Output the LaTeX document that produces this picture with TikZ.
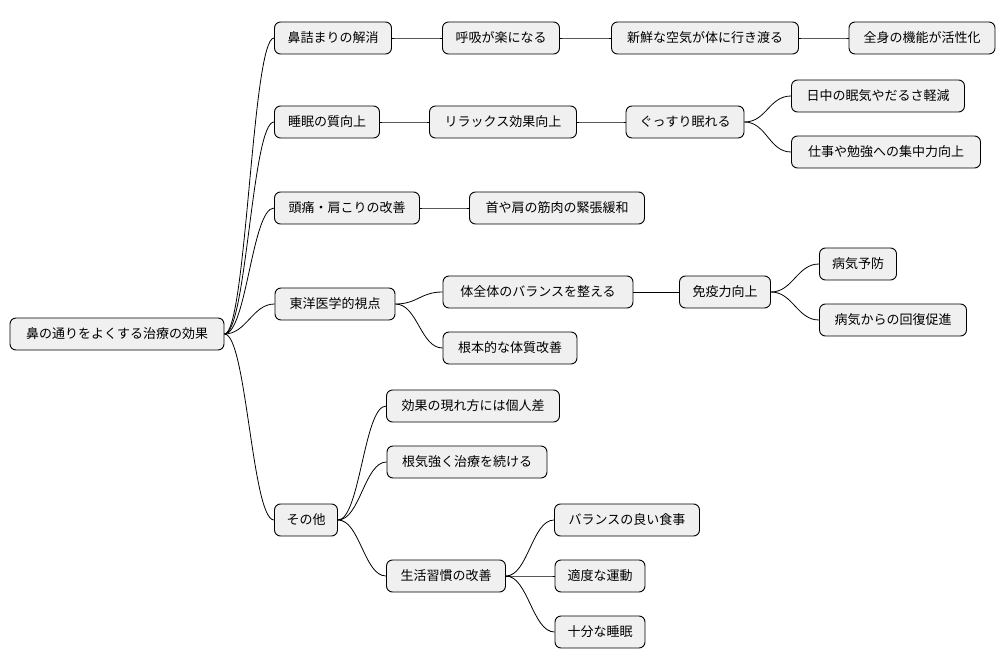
\documentclass[tikz,border=0pt]{standalone}
\usepackage{fontspec}
\newfontfamily\cjk{Noto Sans CJK JP}
\begin{document}
\begin{tikzpicture}[x=1pt,y=-1pt,
  box/.style={draw=black,line width=0.9pt,fill=black!6,rounded corners=6pt,minimum height=32pt,inner xsep=0pt,font=\cjk\fontsize{13}{15}\selectfont,anchor=center},
  con/.style={draw=black,line width=0.8pt}]
\useasboundingbox (0,0) rectangle (1006,668);
\newcommand\nd[5]{\node[box,minimum width=#4pt] (#1) at (#2,#3) {#5};}
\nd{r}{117}{334}{214}{鼻の通りをよくする治療の効果}
\nd{a}{333}{38}{117}{鼻詰まりの解消}
\nd{b}{327}{122}{105}{睡眠の質向上}
\nd{c}{347}{208}{145}{頭痛・肩こりの改善}
\nd{d}{335}{304}{120}{東洋医学的視点}
\nd{e}{306}{520}{63}{その他}
\nd{a1}{501}{38}{117}{呼吸が楽になる}
\nd{a2}{705}{38}{187}{新鮮な空気が体に行き渡る}
\nd{a3}{922}{38}{146}{全身の機能が活性化}
\nd{b1}{503}{122}{147}{リラックス効果向上}
\nd{b2}{685}{122}{118}{ぐっすり眠れる}
\nd{b3}{878}{96}{173}{日中の眠気やだるさ軽減}
\nd{b4}{886}{152}{189}{仕事や勉強への集中力向上}
\nd{c1}{557}{208}{175}{首や肩の筋肉の緊張緩和}
\nd{d1}{538}{292}{190}{体全体のバランスを整える}
\nd{d2}{725}{292}{91}{免疫力向上}
\nd{d3}{858}{264}{77}{病気予防}
\nd{d4}{893}{320}{147}{病気からの回復促進}
\nd{d5}{510}{348}{134}{根本的な体質改善}
\nd{e1}{473}{406}{173}{効果の現れ方には個人差}
\nd{e2}{467}{462}{160}{根気強く治療を続ける}
\nd{e3}{446}{576}{119}{生活習慣の改善}
\nd{e4}{627}{520}{145}{バランスの良い食事}
\nd{e5}{600}{576}{90}{適度な運動}
\nd{e6}{600}{632}{90}{十分な睡眠}
\foreach \p/\c in {r/a,r/b,r/c,r/d,r/e,a/a1,a1/a2,a2/a3,b/b1,b1/b2,b2/b3,b2/b4,c/c1,d/d1,d/d5,d1/d2,d2/d3,d2/d4,e/e1,e/e2,e/e3,e3/e4,e3/e5,e3/e6}
  \draw[con] (\p.east) .. controls ([xshift=22pt]\p.east) and ([xshift=-22pt]\c.west) .. (\c.west);
\end{tikzpicture}
\end{document}
